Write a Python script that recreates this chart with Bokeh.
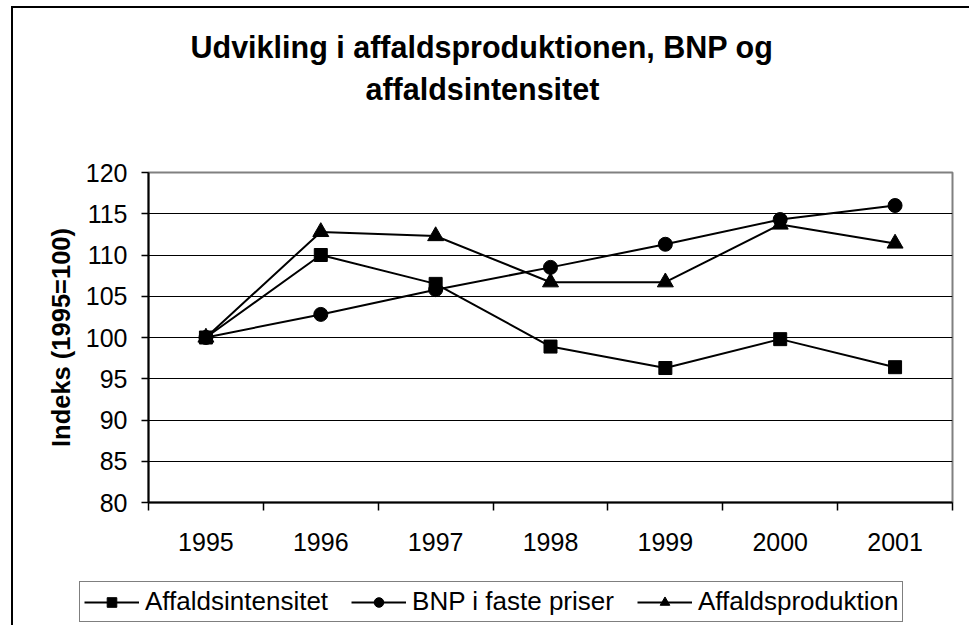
from bokeh.plotting import figure
from bokeh.layouts import column
from bokeh.models import Range1d, FixedTicker, Legend, LegendItem, Title
from bokeh.embed import file_html
from bokeh.resources import INLINE

years = ["1995", "1996", "1997", "1998", "1999", "2000", "2001"]
affaldsintensitet = [100.0, 110.0, 106.5, 98.9, 96.3, 99.8, 96.4]
bnp_faste_priser = [100.0, 102.8, 105.8, 108.5, 111.3, 114.3, 116.0]
affaldsproduktion = [100.0, 112.8, 112.3, 106.7, 106.7, 113.7, 111.4]
series_names = ["Affaldsintensitet", "BNP i faste priser", "Affaldsproduktion"]
y_ticks = [80, 85, 90, 95, 100, 105, 110, 115, 120]
title_lines = ["Udvikling i affaldsproduktionen, BNP og", "affaldsintensitet"]
y_label = "Indeks (1995=100)"

FONT = "Liberation Sans"
W = 969
H_MAIN = 570
H_LEG = 55

x = [i + 0.5 for i in range(len(years))]
bounds = list(range(len(years) + 1))
data = [affaldsintensitet, bnp_faste_priser, affaldsproduktion]
markers = ["square", "circle", "triangle"]
sizes = [13, 14, 16]

p = figure(width=W, height=H_MAIN, output_backend="svg", toolbar_location=None,
           x_range=Range1d(0, len(years)), y_range=Range1d(y_ticks[0], y_ticks[-1]),
           min_border_left=148, min_border_right=17, min_border_top=172,
           min_border_bottom=68)
p.frame_align = False
p.background_fill_color = "white"
p.border_fill_color = None
p.outline_line_color = "#808080"
p.outline_line_width = 2
# outer chart-area frame: left and top edges (right/bottom lie outside the window)
p.styles = {"box-shadow": "inset 0 6px 0 0 white, inset 11px 0 0 0 white, "
                          "inset 0 8px 0 0 black, inset 13px 0 0 0 black"}

xa = p.xaxis[0]
xa.ticker = FixedTicker(ticks=x, minor_ticks=bounds)
xa.major_label_overrides = {xi: yr for xi, yr in zip(x, years)}
xa.major_tick_out = 0
xa.major_tick_in = 0
xa.minor_tick_out = 8
xa.minor_tick_in = 0
xa.minor_tick_line_color = "black"
xa.minor_tick_line_width = 1.5
xa.axis_line_color = "black"
xa.axis_line_width = 2
xa.major_label_standoff = 22
xa.major_label_text_font = FONT
xa.major_label_text_font_size = "25px"
xa.major_label_text_color = "black"

ya = p.yaxis[0]
ya.ticker = FixedTicker(ticks=y_ticks)
ya.major_tick_out = 7
ya.major_tick_in = 0
ya.minor_tick_out = 0
ya.minor_tick_in = 0
ya.major_tick_line_color = "black"
ya.major_tick_line_width = 1.5
ya.axis_line_color = "black"
ya.axis_line_width = 2
ya.major_label_standoff = 14
ya.major_label_text_font = FONT
ya.major_label_text_font_size = "25px"
ya.major_label_text_color = "black"
ya.axis_label = y_label
ya.axis_label_text_font = FONT
ya.axis_label_text_font_size = "25.5px"
ya.axis_label_text_font_style = "bold"
ya.axis_label_text_color = "black"
ya.axis_label_standoff = 8

p.xgrid.visible = False
p.ygrid.ticker = FixedTicker(ticks=y_ticks[1:-1])
p.ygrid.grid_line_color = "black"
p.ygrid.grid_line_width = 1.2

for vals, mk, sz in zip(data, markers, sizes):
    p.line(x, vals, line_color="black", line_width=2)
    p.scatter(x, vals, marker=mk, size=sz, fill_color="black", line_color="black")

# titles: spacer closest to the frame, then the two title lines
spacer = Title(text=" ", text_font_size="1px", standoff=62)
t2 = Title(text=title_lines[1], align="left", offset=217, standoff=4, text_font=FONT,
           text_font_size="30.5px", text_font_style="bold", text_color="black")
t1 = Title(text=title_lines[0], align="left", offset=42, standoff=7, text_font=FONT,
           text_font_size="30.5px", text_font_style="bold", text_color="black")
p.add_layout(spacer, "above")
p.add_layout(t2, "above")
p.add_layout(t1, "above")

# legend strip below the chart (same series, drawn outside its view)
q = figure(width=W, height=H_LEG, output_backend="svg", toolbar_location=None,
           x_range=Range1d(-10, -9), y_range=Range1d(0, 1),
           x_axis_type=None, y_axis_type=None,
           min_border_left=0, min_border_right=0, min_border_top=0, min_border_bottom=0)
q.frame_align = False
q.background_fill_color = None
q.border_fill_color = None
q.outline_line_color = None
q.grid.visible = False
q.styles = {"box-shadow": "inset 11px 0 0 0 white, inset 13px 0 0 0 black"}

items = []
for name, vals, mk, sz in zip(series_names, data, markers, sizes):
    lr = q.line(x, vals, line_color="black", line_width=2)
    sr = q.scatter(x, vals, marker=mk, size=sz, fill_color="black", line_color="black")
    items.append(LegendItem(label=name, renderers=[lr, sr]))

legend = Legend(items=items, orientation="horizontal", location=(79, 3),
                border_line_color="black", border_line_width=1.5,
                background_fill_color="white", background_fill_alpha=1,
                padding=4, spacing=23, label_standoff=6, margin=0,
                glyph_width=55, glyph_height=24,
                label_text_font=FONT, label_text_font_size="26px",
                label_text_color="black")
q.add_layout(legend, "center")

layout = column(p, q, spacing=0)
open("out.html", "w").write(file_html(layout, INLINE))
